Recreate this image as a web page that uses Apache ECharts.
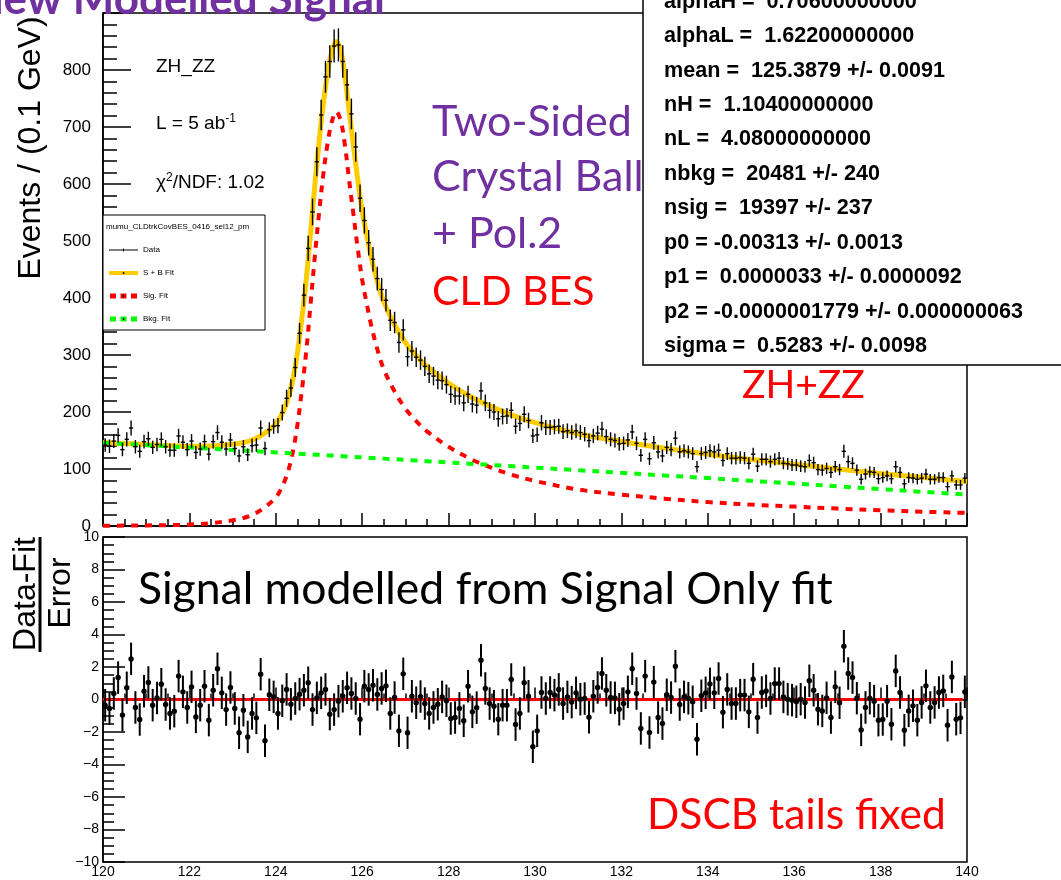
<!DOCTYPE html>
<html>
<head>
<meta charset="utf-8">
<script src="https://cdn.jsdelivr.net/npm/echarts@6/dist/echarts.min.js"></script>
<style>
html,body{margin:0;padding:0;background:#fff;}
#chart{width:1061px;height:880px;}
</style>
</head>
<body>
<div id="chart"></div>
<script>
// ---------------- data ----------------
const binMin = 120;      // GeV, lower edge of first bin
const binWidth = 0.1;    // GeV per bin

// events per 0.1 GeV bin (200 bins, 120-140 GeV)
const eventCounts = [
  142,140,149,159,134,152,172,139,131,148,
  153,138,143,152,139,133,133,158,147,134,
  149,129,135,148,126,148,164,147,135,151,
  136,123,139,125,141,142,172,136,169,175,
  176,199,224,242,278,338,405,487,551,639,
  721,788,815,842,844,815,774,723,665,575,
  536,497,468,434,415,396,361,357,322,344,
  297,307,296,291,280,267,263,256,255,248,
  231,228,228,216,231,214,212,237,216,203,
  200,188,192,193,203,175,180,196,185,158,
  160,181,173,173,174,175,165.5,167,164,167,
  164,161,150,158,163,170,157,152,150,144,
  145,151,165,145,124,152,118,146,130,123,
  138,134,154,130,132,130,127,104,127,129,
  132,130,133,115,127,119,119,120,119,110,
  126,105,117,117,113,117,119,110,109,107,
  107,105,104,115,111,99,98,101,94,104,
  99,131,113,110,98,82,91,95,94,83,
  85,88,83,104,94,74,85,84,82,84,
  91,82,82,85,85,69,88,72,72,84
];

// (Data - Fit) / Error per bin
const pulls = [
  -0.35,-0.55,0.37,1.35,-0.96,0.72,2.5,-0.49,-1.23,0.51,
  1.05,-0.35,0.1,0.94,-0.31,-0.86,-0.72,1.44,0.47,-0.49,
  0.78,-1.07,-0.35,0.82,-1.27,0.57,1.89,0.41,-0.62,0.74,
  -0.55,-2.05,-0.66,-2.3,-0.86,-1.13,1.56,-2.54,0.29,0.16,
  -0.86,-0.08,0.62,-0.29,0.06,0.33,0.57,1.03,-0.62,0.1,
  0.41,0.62,-0.9,-0.62,-0.1,0.2,0.72,0.37,0.06,-1.21,
  0.82,0.62,0.88,0.31,0.68,0.84,-0.86,0.12,-1.93,1.58,
  -2.05,0.2,-0.2,0.18,-0.25,-0.86,-0.49,-0.29,0.16,-0.08,
  -1.17,-1.11,-0.55,-1.31,0.82,-0.76,-0.5,2.42,0.68,-0.25,
  -0.41,-1.21,-0.35,-0.35,1.23,-1.54,-0.86,1.03,0.2,-2.91,
  -1.93,0.43,0.06,0.43,0.27,0.62,-0.25,0.16,-0.16,0.41,
  0.02,0.06,-1.09,0.2,0.74,1.6,0.57,0.12,0.1,-0.6,
  -0.25,0.47,1.89,0.37,-1.78,1.44,-2.03,1.07,-1.11,-1.48,
  0.29,0.12,2.05,-0.31,0.16,0.08,-0.14,-2.44,0.23,0.41,
  0.96,0.41,1.29,-0.78,0.62,-0.25,-0.25,0.27,0.27,-0.76,
  1.25,-1.11,0.43,0.53,0.06,0.98,0.98,0.16,0.02,-0.04,
  -0.14,0.02,-0.18,1.15,0.57,-0.6,-0.7,0.1,-1.11,0.78,
  -0.2,3.28,1.6,1.35,0.08,-1.87,-0.49,0.08,-0.1,-1.27,
  -1.23,-0.1,-1.52,1.76,0.43,-1.89,-0.7,-0.39,-1.27,-0.18,
  0.84,-0.49,-0.18,0.43,0.53,-1.58,1.39,-1.21,-1.13,0.47
];

// fit curves sampled in mass (GeV)
const curveMass = [120,120.5,121,121.5,122,122.5,123,123.25,123.5,123.75,
  124,124.1,124.2,124.3,124.4,124.5,124.6,124.7,124.8,124.9,
  125,125.1,125.2,125.3,125.4,125.5,125.6,125.7,125.8,125.9,
  126,126.1,126.2,126.35,126.5,126.75,127,127.25,127.5,
  128,128.5,129,129.5,130,131,132,133,134,135,136,137,138,139,140];
const sigFit = [0.5,0.7,1,1.5,2.5,5,10,14,21,33,
  50,62,78,100,132,177,236,303,385,470,
  548,617,672,710,727,712,668,605,545,485,
  432,392,355,310,275,236,206,184,166,
  139,118,102,89,79,64,55,48,42,37.5,34,30.5,27.5,25,23];
const bkgFit = [146,143.9,141.8,139.7,137.6,135.5,133.4,132.3,131.2,130.2,
  129.1,128.6,128.2,127.8,127.4,126.9,126.5,126.1,125.6,125.2,
  124.8,124.3,123.9,123.5,123,122.6,122.1,121.7,121.3,120.8,
  120.4,119.9,119.5,118.8,118.2,117.1,116,114.9,113.8,
  111.5,109.3,107,104.8,102.5,97.9,93.3,88.6,84,79.2,74.5,69.6,64.8,59.9,55];
const sbFit = [146.5,144.6,142.8,141.2,140.1,140.5,143.4,146.3,152.2,163.2,
  179.1,190.6,206.2,227.8,259.4,303.9,362.5,429.1,510.6,595.2,
  672.8,741.3,795.9,833.5,850,834.6,790.1,726.7,666.3,605.8,
  552.4,511.9,474.5,428.8,393.2,353.1,322,298.9,279.8,
  250.5,227.3,209,193.8,181.5,161.9,148.3,136.6,126,116.7,108.5,100.1,92.3,84.9,78];

const pullZeroLine = [[120,0],[139.9,0]];

const statLines = [
  'alphaH =  0.70600000000',
  'alphaL =  1.62200000000',
  'mean =  125.3879 +/- 0.0091',
  'nH =  1.10400000000',
  'nL =  4.08000000000',
  'nbkg =  20481 +/- 240',
  'nsig =  19397 +/- 237',
  'p0 = -0.00313 +/- 0.0013',
  'p1 =  0.0000033 +/- 0.0000092',
  'p2 = -0.0000001779 +/- 0.000000063',
  'sigma =  0.5283 +/- 0.0098'
];
const legendTitle = 'mumu_CLDtrkCovBES_0416_sel12_pm';
const legendLabels = ['Data', 'S + B Fit', 'Sig. Fit', 'Bkg. Fit'];

// ---------------- build ----------------
const binCenter = i => binMin + binWidth * (i + 0.5);
const dataPts = eventCounts.map((n, i) => [binCenter(i), n]);
const pullPts = pulls.map((r, i) => [binCenter(i), r]);
const pair = arr => curveMass.map((m, i) => [m, arr[i]]);

const HELV = '"Liberation Sans", Arial, Helvetica, sans-serif';
const CAL = 'Lato, "Open Sans", sans-serif';
const PURPLE = '#7030A0';

function renderData(params, api) {
  const m = api.value(0), n = api.value(1), e = Math.sqrt(n);
  const c = api.coord([m, n]);
  const hi = api.coord([m, n + e]);
  const lo = api.coord([m, n - e]);
  const l = api.coord([m - binWidth / 2, n]);
  const r = api.coord([m + binWidth / 2, n]);
  return {type: 'group', children: [
    {type: 'line', shape: {x1: c[0], y1: hi[1], x2: c[0], y2: lo[1]}, style: {stroke: '#000', lineWidth: 1.4}},
    {type: 'line', shape: {x1: l[0], y1: c[1], x2: r[0], y2: c[1]}, style: {stroke: '#000', lineWidth: 1.4}}
  ]};
}
function renderPull(params, api) {
  const m = api.value(0), v = api.value(1);
  const c = api.coord([m, v]);
  const hi = api.coord([m, v + 1]);
  const lo = api.coord([m, v - 1]);
  return {type: 'group', children: [
    {type: 'line', shape: {x1: c[0], y1: hi[1], x2: c[0], y2: lo[1]}, style: {stroke: '#000', lineWidth: 2}},
    {type: 'circle', shape: {cx: c[0], cy: c[1], r: 2.7}, style: {fill: '#000'}}
  ]};
}

const axisBlack = {lineStyle: {color: '#000', width: 1.5}};

const graphics = [];
function txt(text, x, y, font, color, opts) {
  graphics.push(Object.assign({
    type: 'text', x: x, y: y, z: 100,
    style: Object.assign({text: text, font: font, fill: color, align: 'left', verticalAlign: 'middle'}, (opts && opts.style) || {})
  }, (opts && opts.el) || {}));
}

// page title (cut off at top)
txt('New Modelled Signal', 385, 22, 'bold 44px ' + CAL, PURPLE, {style: {align: 'right', verticalAlign: 'bottom'}});

// y-axis titles
txt('Events / (0.1 GeV)', 31, 148, '32px ' + HELV, '#000', {style: {align: 'center'}, el: {rotation: Math.PI / 2}});
txt('Data-Fit', 26, 594, '32px ' + HELV, '#000', {style: {align: 'center'}, el: {rotation: Math.PI / 2}});
txt('Error', 61, 593, '32px ' + HELV, '#000', {style: {align: 'center'}, el: {rotation: Math.PI / 2}});
graphics.push({type: 'line', z: 100, shape: {x1: 40, y1: 537, x2: 40, y2: 652}, style: {stroke: '#000', lineWidth: 3}});

// in-plot ROOT labels
txt('ZH_ZZ', 156, 67, '19px ' + HELV, '#000');
graphics.push({type: 'text', z: 100, x: 156, y: 124, style: {
  text: 'L = 5 ab{sup|-1}', font: '19px ' + HELV, fill: '#000', verticalAlign: 'middle',
  rich: {sup: {font: '12px ' + HELV, fill: '#000', verticalAlign: 'top', padding: [0, 0, 10, 0]}}
}});
graphics.push({type: 'text', z: 100, x: 156, y: 183, style: {
  text: 'χ{sup|2}/NDF: 1.02', font: '19px ' + HELV, fill: '#000', verticalAlign: 'middle',
  rich: {sup: {font: '12px ' + HELV, fill: '#000', verticalAlign: 'top', padding: [0, 0, 10, 0]}}
}});

// legend box
graphics.push({type: 'rect', z: 100, shape: {x: 103, y: 215, width: 162, height: 115}, style: {fill: '#fff', stroke: '#000', lineWidth: 1}});
txt(legendTitle, 106, 227, '8px ' + HELV, '#000', {el: {z: 101}});
const legY = [250, 273, 296, 319];
graphics.push({type: 'line', z: 101, shape: {x1: 109, y1: legY[0], x2: 138, y2: legY[0]}, style: {stroke: '#000', lineWidth: 1}});
graphics.push({type: 'line', z: 101, shape: {x1: 123.5, y1: legY[0] - 1.5, x2: 123.5, y2: legY[0] + 1.5}, style: {stroke: '#000', lineWidth: 1}});
graphics.push({type: 'rect', z: 101, shape: {x: 109, y: legY[1] - 2, width: 29, height: 4}, style: {fill: '#FFCC00'}});
[['#ff0000', legY[2]], ['#00ff00', legY[3]]].forEach(([col, y]) => {
  [110, 120.5, 131].forEach(x => graphics.push({type: 'rect', z: 101, shape: {x: x, y: y - 2.5, width: 6, height: 5}, style: {fill: col}}));
});
[legY[1], legY[2], legY[3]].forEach(y => graphics.push({type: 'circle', z: 102, shape: {cx: 123.5, cy: y, r: 0.9}, style: {fill: '#000'}}));
legendLabels.forEach((t, i) => txt(t, 143, legY[i], '8px ' + HELV, '#000', {el: {z: 101}}));

// slide annotations
txt('Two-Sided', 432, 122, '43px ' + CAL, PURPLE);
txt('Crystal Ball', 432, 177, '43px ' + CAL, PURPLE);
txt('+ Pol.2', 432, 234, '43px ' + CAL, PURPLE);
txt('CLD BES', 432, 292, '41px ' + CAL, '#ff0000');
txt('ZH+ZZ', 742, 385, '39px ' + CAL, '#ff0000');
txt('Signal modelled from Signal Only fit', 138, 590, '44.5px ' + CAL, '#000');
txt('DSCB tails fixed', 647, 815, '42.5px ' + CAL, '#ff0000');

// stat box
graphics.push({type: 'rect', z: 200, shape: {x: 643, y: -10, width: 430, height: 375}, style: {fill: '#fff', stroke: '#000', lineWidth: 1.5}});
statLines.forEach((s, k) => graphics.push({type: 'text', z: 201, x: 664, y: 1.7 + 34.43 * k,
  style: {text: s, font: 'bold 21.6px ' + HELV, fill: '#000', verticalAlign: 'middle'}}));

const option = {
  animation: false,
  backgroundColor: '#fff',
  grid: [
    {left: 103, top: 13, width: 864, height: 513, show: true, borderColor: '#000', borderWidth: 1.5, backgroundColor: 'transparent', outerBoundsMode: 'none'},
    {left: 103, top: 537, width: 864, height: 325, show: true, borderColor: '#000', borderWidth: 1.5, backgroundColor: 'transparent', outerBoundsMode: 'none'}
  ],
  xAxis: [
    {gridIndex: 0, type: 'value', min: 120, max: 140, interval: 2,
     axisLine: axisBlack, axisLabel: {show: false},
     axisTick: {inside: true, length: 13, lineStyle: {color: '#000', width: 1.5}},
     minorTick: {show: true, splitNumber: 4, length: 7, lineStyle: {color: '#000', width: 1.5}},
     splitLine: {show: false}, minorSplitLine: {show: false}},
    {gridIndex: 1, type: 'value', min: 120, max: 140, interval: 2,
     axisLine: axisBlack,
     axisLabel: {color: '#000', fontFamily: 'Liberation Sans', fontSize: 14, margin: 3},
     axisTick: {inside: true, length: 12, lineStyle: {color: '#000', width: 1.5}},
     minorTick: {show: true, splitNumber: 4, length: 6, lineStyle: {color: '#000', width: 1.5}},
     splitLine: {show: false}, minorSplitLine: {show: false}}
  ],
  yAxis: [
    {gridIndex: 0, type: 'value', min: 0, max: 900, interval: 100,
     axisLine: axisBlack,
     axisLabel: {color: '#000', fontFamily: 'Liberation Sans', fontSize: 17, margin: 12,
                 formatter: v => (v <= 800 ? String(v) : '')},
     axisTick: {inside: true, length: 28, lineStyle: {color: '#000', width: 1.5}},
     minorTick: {show: true, splitNumber: 5, length: 14, lineStyle: {color: '#000', width: 1.5}},
     splitLine: {show: false}, minorSplitLine: {show: false}},
    {gridIndex: 1, type: 'value', min: -10, max: 10, interval: 2,
     axisLine: axisBlack,
     axisLabel: {color: '#000', fontFamily: 'Liberation Sans', fontSize: 14, margin: 4,
                 formatter: v => String(v).replace('-', '\u2212')},
     axisTick: {inside: true, length: 22, lineStyle: {color: '#000', width: 1.5}},
     minorTick: {show: true, splitNumber: 4, length: 11, lineStyle: {color: '#000', width: 1.5}},
     splitLine: {show: false}, minorSplitLine: {show: false}}
  ],
  series: [
    {type: 'line', name: 'S + B Fit', xAxisIndex: 0, yAxisIndex: 0, data: pair(sbFit),
     showSymbol: false, smooth: 0.35, z: 3, lineStyle: {color: '#FFCC00', width: 5}},
    {type: 'line', name: 'Sig. Fit', xAxisIndex: 0, yAxisIndex: 0, data: pair(sigFit),
     showSymbol: false, smooth: 0.35, z: 4, lineStyle: {color: '#ff0000', width: 4, type: [7, 7]}},
    {type: 'line', name: 'Bkg. Fit', xAxisIndex: 0, yAxisIndex: 0, data: pair(bkgFit),
     showSymbol: false, smooth: 0.35, z: 4, lineStyle: {color: '#00ff00', width: 4, type: [7, 7]}},
    {type: 'custom', name: 'Data', xAxisIndex: 0, yAxisIndex: 0, data: dataPts, renderItem: renderData, z: 5},
    {type: 'line', name: 'zero', xAxisIndex: 1, yAxisIndex: 1, data: pullZeroLine,
     showSymbol: false, z: 3, lineStyle: {color: '#ff0000', width: 3}},
    {type: 'custom', name: 'Pull', xAxisIndex: 1, yAxisIndex: 1, data: pullPts, renderItem: renderPull, z: 5}
  ],
  graphic: graphics
};

const chart = echarts.init(document.getElementById('chart'), null, {renderer: 'canvas'});
chart.setOption(option);
</script>
</body>
</html>
